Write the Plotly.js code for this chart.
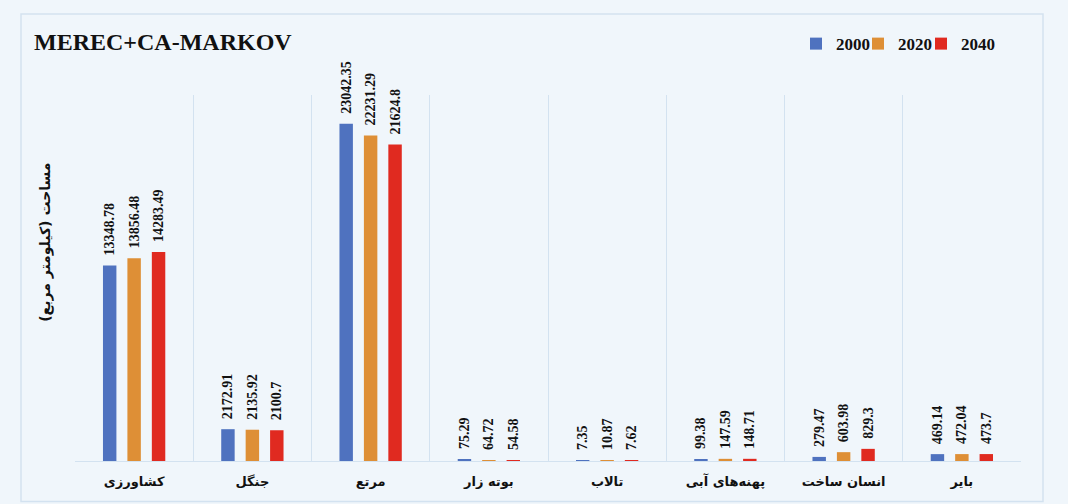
<!DOCTYPE html>
<html>
<head>
<meta charset="utf-8">
<script src="https://cdn.plot.ly/plotly-3.0.1.min.js"></script>
<style>html,body{margin:0;padding:0;background:#f0f6fb;}#chart{width:1068px;height:504px;}</style>
</head>
<body>
<div id="chart"></div>
<script>
const categories = ["کشاورزی", "جنگل", "مرتع", "بوته زار", "تالاب", "پهنه‌های آبی", "انسان ساخت", "بایر"];
const years = ["2000", "2020", "2040"];
const values2000 = [13348.78, 2172.91, 23042.35, 75.29, 7.35, 99.38, 279.47, 469.14];
const values2020 = [13856.48, 2135.92, 22231.29, 64.72, 10.87, 147.59, 603.98, 472.04];
const values2040 = [14283.49, 2100.7, 21624.8, 54.58, 7.62, 148.71, 829.3, 473.7];
const colors = ["#4f72bf", "#de8f36", "#e02a20"];
const chartTitle = "MEREC+CA-MARKOV";
const yTitle = "مساحت (کیلومتر مربع)";

const W = 1068, H = 504;
const m = {l: 75, r: 47, t: 95, b: 42.5};
const pw = W - m.l - m.r, ph = H - m.t - m.b;
const px = X => (X - m.l) / pw;
const py = Y => (H - m.b - Y) / ph;

const legendNames = ["legend", "legend2", "legend3"];
const legendTextStart = [836, 898, 961];

const series = [values2000, values2020, values2040];
const traces = series.map((vals, i) => ({
  type: "bar",
  name: years[i],
  legend: legendNames[i],
  x: categories,
  y: vals,
  text: vals.map(v => "\u00a0\u00a0" + String(v)),
  textposition: "outside",
  textangle: -90,
  constraintext: "none",
  cliponaxis: false,
  textfont: {family: "Liberation Serif", size: 14, color: "#111", weight: "bold"},
  marker: {color: colors[i], line: {width: 0}},
  hoverinfo: "x+y+name"
}));

const legendFont = {family: "Liberation Serif", size: 17, color: "#111", weight: "bold"};

const layout = {
  width: W, height: H,
  margin: m,
  paper_bgcolor: "#f0f6fb",
  plot_bgcolor: "#f0f6fb",
  showlegend: true,
  bargap: 0.38,
  bargroupgap: 0.45,
  title: {
    text: chartTitle,
    font: {family: "Liberation Serif", size: 24, color: "#111", weight: "bold"},
    x: 34 / W, xanchor: "left", xref: "container",
    y: 1 - 42 / H, yanchor: "middle", yref: "container"
  },
  xaxis: {
    type: "category",
    tickson: "boundaries",
    showgrid: true,
    gridcolor: "#d3e2f0",
    gridwidth: 1,
    showline: true,
    linecolor: "#d3e2f0",
    ticks: "",
    ticklabelstandoff: 8,
    tickfont: {family: "DejaVu Sans", size: 13, color: "#111", weight: "bold"},
    fixedrange: true
  },
  yaxis: {
    range: [0, 25000],
    showgrid: false,
    zeroline: false,
    showticklabels: false,
    ticks: "",
    showline: false,
    fixedrange: true
  },
  annotations: [{
    text: yTitle, textangle: -90, showarrow: false,
    xref: "paper", yref: "paper",
    x: px(46), y: py(243), xanchor: "center", yanchor: "middle",
    font: {family: "DejaVu Sans", size: 14, color: "#111", weight: "bold"}
  }],
  shapes: [{
    type: "rect", xref: "paper", yref: "paper", layer: "below",
    x0: px(21), x1: px(1043), y0: py(502), y1: py(14),
    line: {color: "#d3e2f0", width: 1.5}, fillcolor: "rgba(0,0,0,0)"
  }],
  font: {family: "Liberation Serif"}
};

legendNames.forEach((name, i) => {
  layout[name] = {
    orientation: "h",
    x: px(legendTextStart[i] - 40), xanchor: "left",
    y: py(44), yanchor: "middle",
    font: legendFont,
    bgcolor: "rgba(0,0,0,0)",
    borderwidth: 0,
    itemwidth: 30
  };
});

Plotly.newPlot("chart", traces, layout, {displayModeBar: false, responsive: false});
</script>
</body>
</html>
